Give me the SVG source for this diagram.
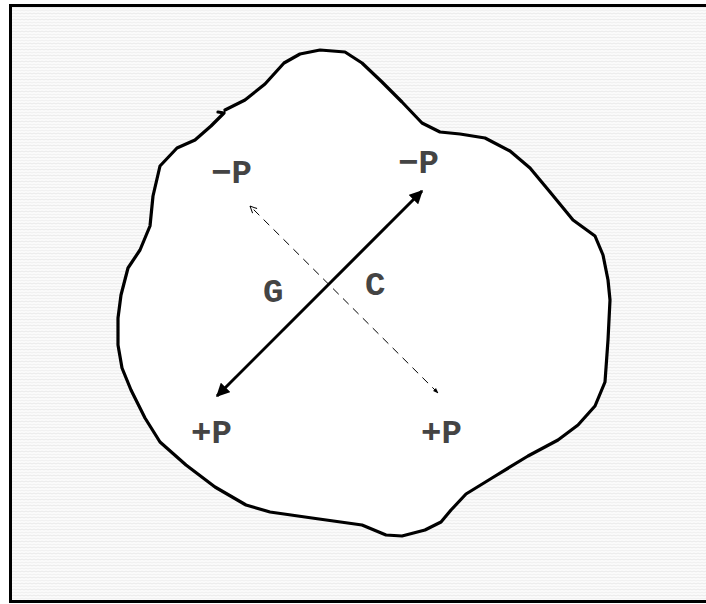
<svg xmlns="http://www.w3.org/2000/svg" width="706" height="604" viewBox="0 0 706 604">
<style>
.lbl{font-family:"Liberation Mono","Courier New",monospace;font-weight:bold;font-size:34px;fill:#444}
</style>
<defs>
<pattern id="tex" width="8" height="6" patternUnits="userSpaceOnUse">
<rect width="8" height="6" fill="#fbfbfb"/>
<path d="M0,2 L2,1 L4,2 L6,1 L8,2" fill="none" stroke="#e4e4e4" stroke-width="0.8"/>
<path d="M0,5 L2,4 L4,5 L6,4 L8,5" fill="none" stroke="#ececec" stroke-width="0.8"/>
</pattern>
<marker id="ah" viewBox="0 0 10 10" refX="9" refY="5" markerWidth="4.5" markerHeight="4.5" orient="auto-start-reverse" markerUnits="strokeWidth">
<path d="M0,0 L10,5 L0,10 Z" fill="#000"/>
</marker>
<marker id="ao" viewBox="0 0 10 10" refX="9.5" refY="5" markerWidth="8" markerHeight="8" orient="auto" markerUnits="strokeWidth">
<path d="M1,1 L9.5,5 L1,9" fill="none" stroke="#000" stroke-width="1.2"/>
</marker>
<marker id="af" viewBox="0 0 10 10" refX="9" refY="5" markerWidth="7" markerHeight="7" orient="auto" markerUnits="strokeWidth">
<path d="M2,2 L10,5 L2,8 Z" fill="#000"/>
</marker>
</defs>
<g id="frame">
<rect x="10.5" y="5.5" width="710" height="596" fill="url(#tex)" stroke="#000" stroke-width="3"/>
</g>
<g id="body">
<path d="M225,110 L245,100 L265,84 L284,63 L300,54 L320,50 L345,52 L362,63 L382,82 L402,102 L422,123 L440,132 L460,134 L485,138 L510,151 L530,168 L550,192 L573,220 L595,236 L603,255 L608,280 L610,300 L608,340 L605,382 L595,406 L578,425 L558,440 L528,456 L492,478 L466,494 L451,510 L441,522 L425,530 L402,536 L386,535 L362,525 L312,518 L270,512 L246,505 L215,487 L186,465 L160,442 L145,418 L131,390 L122,368 L118,345 L118,318 L121,295 L128,268 L140,250 L150,226 L153,196 L160,166 L177,148 L195,140 L211,126 L224,113 L218,112" fill="#fff" stroke="#000" stroke-width="3.2" stroke-linejoin="round" stroke-linecap="round"/>
</g>
<g id="connectors">
<line x1="217" y1="396" x2="422" y2="191" stroke="#000" stroke-width="3" marker-start="url(#ah)" marker-end="url(#ah)"/>
<line x1="438" y1="393" x2="250" y2="206" stroke="#000" stroke-width="1" stroke-dasharray="8,6" marker-end="url(#ao)"/>
<line x1="300" y1="256" x2="438" y2="393" stroke="none" marker-end="url(#af)"/>
</g>
<g id="labels">
<text class="lbl" x="211" y="183">−P</text>
<text class="lbl" x="398" y="173">−P</text>
<text class="lbl" x="263" y="302">G</text>
<text class="lbl" x="365" y="295">C</text>
<text class="lbl" x="191" y="443">+P</text>
<text class="lbl" x="421" y="443">+P</text>
</g>
</svg>
